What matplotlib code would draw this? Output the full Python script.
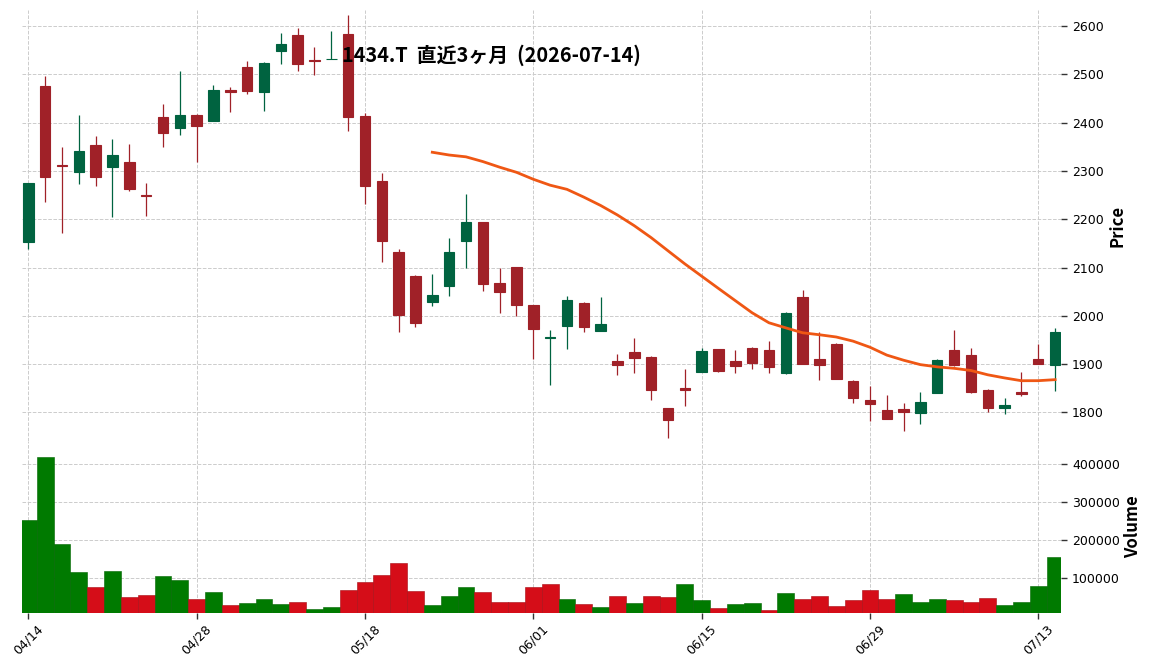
import matplotlib
matplotlib.use("Agg")
import matplotlib.pyplot as plt
import numpy as np
import pandas as pd

# 1434.T 直近3ヶ月 の日足 (読み取り値)
dates = ["04/14", "04/15", "04/16", "04/17", "04/20", "04/21", "04/22", "04/23", "04/24", "04/27",
         "04/28", "04/30", "05/01", "05/07", "05/08", "05/11", "05/12", "05/13", "05/14", "05/15",
         "05/18", "05/19", "05/20", "05/21", "05/22", "05/25", "05/26", "05/27", "05/28", "05/29",
         "06/01", "06/02", "06/03", "06/04", "06/05", "06/08", "06/09", "06/10", "06/11", "06/12",
         "06/15", "06/16", "06/17", "06/18", "06/19", "06/22", "06/23", "06/24", "06/25", "06/26",
         "06/29", "06/30", "07/01", "07/02", "07/03", "07/06", "07/07", "07/08", "07/09", "07/10",
         "07/13", "07/14"]

opens = [2153, 2476, 2312, 2298, 2354, 2309, 2318, 2251, 2412, 2389,
         2416, 2404, 2467, 2515, 2464, 2549, 2581, 2530, 2531, 2583,
         2414, 2279, 2132, 2083, 2029, 2062, 2155, 2194, 2068, 2101,
         2022, 1955, 1979, 2027, 1969, 1906, 1925, 1915, 1809, 1850,
         1884, 1931, 1906, 1933, 1929, 1882, 2039, 1911, 1942, 1866,
         1826, 1805, 1807, 1799, 1841, 1929, 1919, 1846, 1810, 1843,
         1911, 1899]
highs = [2275, 2496, 2349, 2415, 2372, 2365, 2355, 2274, 2438, 2506,
         2417, 2477, 2473, 2527, 2525, 2586, 2595, 2556, 2590, 2623,
         2420, 2295, 2138, 2085, 2087, 2162, 2252, 2195, 2100, 2102,
         2023, 1970, 2042, 2028, 2038, 1922, 1955, 1916, 1810, 1890,
         1934, 1932, 1929, 1935, 1947, 2008, 2053, 1967, 1943, 1867,
         1855, 1837, 1819, 1842, 1910, 1970, 1933, 1848, 1829, 1883,
         1941, 1975]
lows = [2138, 2235, 2171, 2272, 2268, 2204, 2259, 2206, 2349, 2374,
        2319, 2403, 2421, 2459, 2425, 2522, 2506, 2498, 2531, 2382,
        2231, 2111, 1966, 1977, 2021, 2042, 2100, 2052, 2005, 1999,
        1910, 1856, 1931, 1966, 1969, 1877, 1881, 1825, 1748, 1813,
        1883, 1884, 1881, 1889, 1881, 1879, 1900, 1867, 1869, 1819,
        1783, 1786, 1761, 1777, 1840, 1897, 1841, 1800, 1797, 1835,
        1900, 1845]
closes = [2275, 2288, 2310, 2341, 2288, 2333, 2263, 2248, 2379, 2416,
          2392, 2467, 2463, 2465, 2524, 2563, 2522, 2528, 2532, 2412,
          2269, 2155, 2002, 1986, 2044, 2132, 2194, 2066, 2050, 2023,
          1973, 1956, 2033, 1977, 1983, 1899, 1913, 1847, 1785, 1847,
          1927, 1886, 1897, 1903, 1895, 2006, 1901, 1899, 1870, 1829,
          1818, 1787, 1800, 1822, 1908, 1898, 1843, 1810, 1815, 1839,
          1901, 1966]
volumes = [253500, 419300, 190400, 116700, 77200, 119300, 50900, 56100, 106100, 95600,
           45600, 64000, 29800, 35100, 45600, 32500, 37700, 19300, 24600, 69300,
           90400, 108800, 140400, 66700, 29800, 53500, 77200, 64000, 37700, 37700,
           77200, 85100, 45600, 32500, 24600, 53500, 35100, 53500, 50900, 85100,
           43000, 21900, 32500, 35100, 16700, 61400, 45600, 53500, 27200, 43000,
           69300, 45600, 58800, 37700, 45600, 43000, 37700, 48200, 29800, 37700,
           79800, 156100]

mav_window = 25
title = "1434.T  直近3ヶ月  (2026-07-14)"

# 色 (charles 風)
up_c, down_c = "#006340", "#a02128"
vol_up, vol_down = "#007a00", "#d50d18"
mav_c = "#ef5714"
grid_c = "#cccccc"
jp_font = ["Noto Sans CJK JP", "DejaVu Sans"]

plt.rcParams["font.family"] = ["DejaVu Sans"]

o = np.array(opens, dtype=float)
h = np.array(highs, dtype=float)
l = np.array(lows, dtype=float)
c = np.array(closes, dtype=float)
v = np.array(volumes, dtype=float)
x = np.arange(len(dates))

fig = plt.figure(figsize=(11.52, 6.70), dpi=100)
ax = fig.add_axes([22 / 1152, 1 - 441 / 670, 1039 / 1152, 431 / 670])
axv = fig.add_axes([22 / 1152, 1 - 612.7 / 670, 1039 / 1152, 171.7 / 670], sharex=ax)

# ローソク足
up = c >= o
colors = np.where(up, up_c, down_c)
ax.vlines(x, l, h, colors=colors, linewidth=0.9, zorder=3)
body_bottom = np.minimum(o, c)
body_height = np.abs(c - o)
ax.bar(x, body_height, width=0.62, bottom=body_bottom, color=colors,
       edgecolor=colors, linewidth=0.8, zorder=4)

# 移動平均線
mav = pd.Series(c).rolling(mav_window).mean()
ax.plot(x, mav, color=mav_c, linewidth=2.0, zorder=5)

# 出来高 (前日終値比で色分け)
prev = np.concatenate([[c[0]], c[:-1]])
vcol = np.where(c >= prev, vol_up, vol_down)
vedge = np.where(c >= prev, "#006400", "#a80a12")
axv.bar(x, v, width=1.0, color=vcol, edgecolor=vedge, linewidth=0.4, zorder=3)

for a in (ax, axv):
    for s in a.spines.values():
        s.set_visible(False)
    a.grid(True, linestyle="--", color=grid_c, linewidth=0.7, zorder=0)
    a.set_axisbelow(True)
    a.yaxis.tick_right()
    a.yaxis.set_label_position("right")
    a.tick_params(axis="y", length=4, width=1, color="#333333", labelsize=9, pad=4)

ax.set_xlim(-0.375, 61.35)
ax.set_ylim(1741, 2633)
ax.set_yticks(np.arange(1800, 2601, 100))
ax.tick_params(axis="x", length=0, labelbottom=False)

axv.set_ylim(9650, 1.1 * v.max())
axv.set_yticks([100000, 200000, 300000, 400000])
axv.set_yticklabels(["100000", "200000", "300000", "400000"])
tick_pos = list(range(0, len(dates), 10))
axv.set_xticks(tick_pos)
axv.set_xticklabels([dates[i] for i in tick_pos], rotation=45, ha="center", fontsize=9)
axv.tick_params(axis="x", length=4, width=1, color="#333333", pad=3)

ax.set_ylabel("Price", fontsize=12, fontweight="bold", family=jp_font, labelpad=3)
axv.set_ylabel("Volume", fontsize=12, fontweight="bold", family=jp_font, labelpad=3)

fig.text(491 / 1152, 1 - 55 / 670, title, ha="center", va="center",
         fontsize=14.3, fontweight="bold", family=jp_font)

fig.savefig("out.png", dpi=100)
